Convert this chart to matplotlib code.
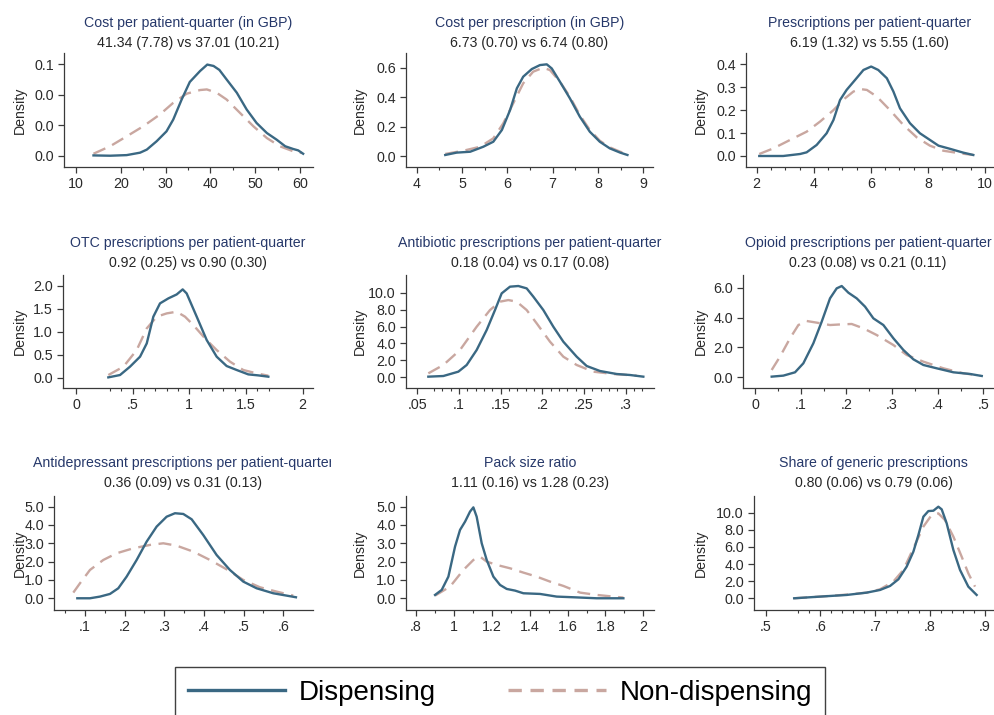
import matplotlib
matplotlib.use("Agg")
import matplotlib.pyplot as plt
from matplotlib.lines import Line2D
from matplotlib.ticker import FixedLocator, FixedFormatter
from matplotlib.transforms import Bbox, TransformedBbox

plt.rcParams['font.family'] = ['Liberation Sans', 'DejaVu Sans']

# kernel density estimates, dispensing (disp) vs non-dispensing (nond) practices
cost_pq_disp_x = [13.9, 17.6, 21.3, 24.3, 25.8, 28.0, 30.2, 31.7, 33.6, 35.4, 37.7, 39.3, 40.7, 42.0,
                  43.6, 45.9, 48.1, 50.3, 52.6, 54.8, 56.7, 58.5, 59.6, 60.7]
cost_pq_disp_y = [0.0002, 0.0, 0.0004, 0.002, 0.004, 0.0095, 0.016, 0.0237, 0.037, 0.0484, 0.0556, 0.0598,
                  0.0589, 0.0563, 0.0501, 0.0413, 0.0303, 0.0215, 0.0149, 0.0105, 0.0062, 0.0044, 0.0035, 0.0013]
cost_pq_nond_x = [13.9, 17.6, 21.3, 25.0, 28.7, 31.7, 34.7, 37.7, 39.2, 41.4, 43.6, 46.6, 49.6, 52.6,
                  55.5, 58.5, 60.4]
cost_pq_nond_y = [0.0013, 0.0062, 0.0127, 0.0193, 0.027, 0.0347, 0.0407, 0.0431, 0.0435, 0.0413, 0.0369,
                  0.0281, 0.0193, 0.0116, 0.0062, 0.0029, 0.0018]

cost_rx_disp_x = [4.63, 4.88, 5.18, 5.47, 5.69, 5.88, 6.06, 6.21, 6.35, 6.54, 6.72, 6.87, 6.98, 7.16,
                  7.38, 7.60, 7.82, 8.04, 8.26, 8.49, 8.65]
cost_rx_disp_y = [0.007, 0.023, 0.029, 0.063, 0.097, 0.177, 0.312, 0.46, 0.539, 0.591, 0.618, 0.623,
                  0.595, 0.505, 0.392, 0.267, 0.165, 0.097, 0.052, 0.023, 0.007]
cost_rx_nond_x = [4.63, 5.03, 5.40, 5.69, 5.91, 6.13, 6.35, 6.57, 6.79, 6.94, 7.16, 7.38, 7.60, 7.82,
                  8.04, 8.26, 8.49, 8.65]
cost_rx_nond_y = [0.014, 0.036, 0.063, 0.12, 0.222, 0.358, 0.494, 0.573, 0.60, 0.584, 0.505, 0.403,
                  0.278, 0.177, 0.104, 0.059, 0.029, 0.014]

rx_pq_disp_x = [2.09, 2.93, 3.52, 3.75, 4.10, 4.45, 4.69, 4.92, 5.15, 5.45, 5.74, 6.01, 6.26, 6.56,
                6.79, 7.02, 7.37, 7.72, 8.07, 8.37, 8.78, 9.24, 9.59]
rx_pq_disp_y = [0.0, 0.0, 0.0087, 0.016, 0.048, 0.099, 0.157, 0.244, 0.288, 0.332, 0.375, 0.39, 0.375,
                0.339, 0.281, 0.208, 0.143, 0.099, 0.07, 0.045, 0.031, 0.0145, 0.0044]
rx_pq_nond_x = [2.09, 2.58, 3.17, 3.75, 4.22, 4.69, 5.10, 5.39, 5.62, 5.86, 6.21, 6.67, 7.14, 7.61,
                8.07, 8.54, 9.13, 9.59]
rx_pq_nond_y = [0.0087, 0.033, 0.07, 0.106, 0.15, 0.20, 0.252, 0.281, 0.292, 0.288, 0.259, 0.20, 0.135,
                0.081, 0.045, 0.023, 0.0116, 0.0044]

otc_disp_x = [0.285, 0.388, 0.476, 0.565, 0.624, 0.682, 0.741, 0.815, 0.888, 0.941, 0.976, 1.065, 1.153,
              1.241, 1.329, 1.418, 1.52, 1.609, 1.697]
otc_disp_y = [0.007, 0.058, 0.239, 0.457, 0.746, 1.326, 1.616, 1.725, 1.81, 1.92, 1.833, 1.326, 0.819,
              0.457, 0.254, 0.167, 0.072, 0.05, 0.022]
otc_nond_x = [0.285, 0.418, 0.535, 0.624, 0.712, 0.80, 0.888, 0.962, 1.035, 1.138, 1.241, 1.359, 1.476,
              1.594, 1.697]
otc_nond_y = [0.058, 0.239, 0.60, 1.072, 1.326, 1.398, 1.435, 1.326, 1.145, 0.855, 0.601, 0.348, 0.167,
              0.094, 0.043]

abx_disp_x = [0.0632, 0.0812, 0.0992, 0.1092, 0.1212, 0.1332, 0.1432, 0.1512, 0.1612, 0.1712, 0.1812,
              0.1892, 0.2012, 0.2132, 0.2252, 0.2412, 0.2532, 0.2692, 0.2892, 0.3052, 0.3212]
abx_disp_y = [0.079, 0.157, 0.669, 1.457, 3.23, 5.59, 7.95, 9.92, 10.71, 10.79, 10.51, 9.53, 7.95, 5.98,
              4.21, 2.44, 1.34, 0.748, 0.394, 0.276, 0.079]
abx_nond_x = [0.0632, 0.0812, 0.1012, 0.1212, 0.1372, 0.1492, 0.1592, 0.1692, 0.1812, 0.1932, 0.2092,
              0.2252, 0.2412, 0.2612, 0.2852, 0.3132]
abx_nond_y = [0.472, 1.457, 3.23, 5.98, 7.95, 8.94, 9.13, 8.94, 7.95, 6.38, 4.21, 2.44, 1.457, 0.669,
              0.394, 0.197]

opi_disp_x = [0.0365, 0.062, 0.0876, 0.1058, 0.1277, 0.146, 0.1642, 0.1788, 0.1898, 0.2044, 0.2226,
              0.2409, 0.2591, 0.281, 0.303, 0.3248, 0.3467, 0.3686, 0.3978, 0.4343, 0.4708, 0.4964]
opi_disp_y = [0.045, 0.112, 0.335, 0.937, 2.275, 3.725, 5.286, 5.955, 6.112, 5.665, 5.286, 4.73, 3.948,
              3.50, 2.61, 1.83, 1.204, 0.825, 0.602, 0.335, 0.223, 0.089]
opi_nond_x = [0.0365, 0.0547, 0.0766, 0.0949, 0.1131, 0.135, 0.1642, 0.1898, 0.2117, 0.2372, 0.2664,
              0.303, 0.3321, 0.3686, 0.4124, 0.4562, 0.4927]
opi_nond_y = [0.491, 1.383, 2.61, 3.50, 3.77, 3.66, 3.50, 3.546, 3.57, 3.28, 2.83, 2.16, 1.494, 1.048,
              0.602, 0.268, 0.112]

adep_disp_x = [0.0807, 0.1126, 0.1378, 0.163, 0.184, 0.205, 0.2303, 0.2555, 0.2807, 0.3059, 0.3269,
               0.3479, 0.369, 0.3983, 0.432, 0.4655, 0.4992, 0.5328, 0.5748, 0.6084, 0.632]
adep_disp_y = [0.0, 0.0, 0.091, 0.236, 0.545, 1.18, 2.09, 3.09, 3.91, 4.45, 4.64, 4.60, 4.31, 3.45,
               2.36, 1.545, 0.909, 0.545, 0.273, 0.145, 0.055]
adep_nond_x = [0.0706, 0.0874, 0.1126, 0.1462, 0.1798, 0.2218, 0.2639, 0.2975, 0.3311, 0.3731, 0.4151,
               0.4571, 0.4992, 0.5412, 0.5832, 0.6252]
adep_nond_y = [0.309, 0.818, 1.545, 2.09, 2.455, 2.727, 2.91, 3.0, 2.87, 2.545, 2.09, 1.58, 1.0, 0.60,
               0.364, 0.145]

pack_disp_x = [0.9003, 0.9355, 0.9707, 1.0059, 1.0322, 1.0587, 1.085, 1.1026, 1.120, 1.1466, 1.173,
               1.2082, 1.2434, 1.2786, 1.3226, 1.3666, 1.4545, 1.5425, 1.6305, 1.7537, 1.8944]
pack_disp_y = [0.182, 0.455, 1.18, 2.82, 3.73, 4.18, 4.73, 4.96, 4.45, 3.0, 2.09, 1.18, 0.727, 0.509,
               0.418, 0.273, 0.236, 0.091, 0.055, 0.0, 0.0]
pack_nond_x = [0.9003, 0.9795, 1.0499, 1.1026, 1.1378, 1.173, 1.2258, 1.2962, 1.3666, 1.4370, 1.5073,
               1.5777, 1.6657, 1.7537, 1.8417, 1.8944]
pack_nond_y = [0.145, 0.636, 1.545, 2.09, 2.27, 2.0, 1.82, 1.636, 1.40, 1.18, 0.909, 0.673, 0.309,
               0.182, 0.091, 0.036]

gen_disp_x = [0.5522, 0.5995, 0.6481, 0.6845, 0.7088, 0.727, 0.7422, 0.7573, 0.7695, 0.7786, 0.7877,
              0.7968, 0.8059, 0.815, 0.8211, 0.8302, 0.8424, 0.8545, 0.8696, 0.8848]
gen_disp_y = [0.0, 0.195, 0.389, 0.661, 0.973, 1.44, 2.22, 3.70, 5.45, 7.39, 9.53, 10.19, 10.23, 10.70,
              10.39, 8.75, 5.64, 3.31, 1.36, 0.389]
gen_nond_x = [0.5522, 0.5995, 0.6481, 0.6845, 0.7088, 0.733, 0.7512, 0.7695, 0.7877, 0.8028, 0.815,
              0.8271, 0.8424, 0.8575, 0.8696, 0.8818]
gen_nond_y = [0.0, 0.195, 0.428, 0.661, 1.05, 1.95, 3.31, 5.84, 8.37, 9.73, 9.92, 9.14, 7.20, 4.86,
              2.92, 1.36]

titles = ["Cost per patient-quarter (in GBP)", "Cost per prescription (in GBP)",
          "Prescriptions per patient-quarter", "OTC prescriptions per patient-quarter",
          "Antibiotic prescriptions per patient-quarter", "Opioid prescriptions per patient-quarter",
          "Antidepressant prescriptions per patient-quarter", "Pack size ratio",
          "Share of generic prescriptions"]
subtitles = ["41.34 (7.78) vs 37.01 (10.21)", "6.73 (0.70) vs 6.74 (0.80)", "6.19 (1.32) vs 5.55 (1.60)",
             "0.92 (0.25) vs 0.90 (0.30)", "0.18 (0.04) vs 0.17 (0.08)", "0.23 (0.08) vs 0.21 (0.11)",
             "0.36 (0.09) vs 0.31 (0.13)", "1.11 (0.16) vs 1.28 (0.23)", "0.80 (0.06) vs 0.79 (0.06)"]

xticks = [[10, 20, 30, 40, 50, 60], [4, 5, 6, 7, 8, 9], [2, 4, 6, 8, 10],
          [0, 0.5, 1, 1.5, 2], [0.05, 0.1, 0.15, 0.2, 0.25, 0.3], [0, 0.1, 0.2, 0.3, 0.4, 0.5],
          [0.1, 0.2, 0.3, 0.4, 0.5, 0.6], [0.8, 1, 1.2, 1.4, 1.6, 1.8, 2], [0.5, 0.6, 0.7, 0.8, 0.9]]
xticklabels = [["10", "20", "30", "40", "50", "60"], ["4", "5", "6", "7", "8", "9"],
               ["2", "4", "6", "8", "10"], ["0", ".5", "1", "1.5", "2"],
               [".05", ".1", ".15", ".2", ".25", ".3"], ["0", ".1", ".2", ".3", ".4", ".5"],
               [".1", ".2", ".3", ".4", ".5", ".6"], [".8", "1", "1.2", "1.4", "1.6", "1.8", "2"],
               [".5", ".6", ".7", ".8", ".9"]]
xminor = [[25, 35, 45, 55], [4.5, 5.5, 6.5, 7.5, 8.5],
          [2.5, 3, 3.5, 4.5, 5, 5.5, 6.5, 7, 7.5, 8.5, 9, 9.5],
          [0.3, 0.4, 0.6, 0.7, 0.8, 0.9, 1.1, 1.2, 1.3, 1.4, 1.6, 1.7],
          [0.07, 0.08, 0.09, 0.11, 0.12, 0.13, 0.14, 0.16, 0.17, 0.18, 0.19, 0.21, 0.22, 0.23, 0.24,
           0.26, 0.27, 0.28, 0.29, 0.31, 0.32],
          [0.05, 0.15, 0.25, 0.35, 0.45], [0.05, 0.15, 0.25, 0.35, 0.45, 0.55],
          [0.9, 1.1, 1.3, 1.5, 1.7, 1.9],
          [0.56, 0.58, 0.62, 0.64, 0.66, 0.68, 0.72, 0.74, 0.76, 0.78, 0.82, 0.84, 0.86, 0.88]]
yticks = [[0, 0.02, 0.04, 0.06], [0, 0.2, 0.4, 0.6], [0, 0.1, 0.2, 0.3, 0.4],
          [0, 0.5, 1, 1.5, 2], [0, 2, 4, 6, 8, 10], [0, 2, 4, 6],
          [0, 1, 2, 3, 4, 5], [0, 1, 2, 3, 4, 5], [0, 2, 4, 6, 8, 10]]

disp_series = [(cost_pq_disp_x, cost_pq_disp_y), (cost_rx_disp_x, cost_rx_disp_y),
               (rx_pq_disp_x, rx_pq_disp_y), (otc_disp_x, otc_disp_y), (abx_disp_x, abx_disp_y),
               (opi_disp_x, opi_disp_y), (adep_disp_x, adep_disp_y), (pack_disp_x, pack_disp_y),
               (gen_disp_x, gen_disp_y)]
nond_series = [(cost_pq_nond_x, cost_pq_nond_y), (cost_rx_nond_x, cost_rx_nond_y),
               (rx_pq_nond_x, rx_pq_nond_y), (otc_nond_x, otc_nond_y), (abx_nond_x, abx_nond_y),
               (opi_nond_x, opi_nond_y), (adep_nond_x, adep_nond_y), (pack_nond_x, pack_nond_y),
               (gen_nond_x, gen_nond_y)]

# plot regions in pixels: left, right, top, bottom
W, H = 995, 715
boxes = [(64, 313, 53, 167), (406, 653, 53, 167), (746, 993, 53, 167),
         (63, 313, 275, 388), (406, 654, 275, 388), (743, 993, 275, 388),
         (54, 313, 496, 610), (406, 654, 496, 610), (754, 993, 496, 610)]
xlims = [(7.32, 62.9), (3.764, 9.214), (1.625, 10.28), (-0.115, 2.091), (0.0364, 0.334),
         (-0.0263, 0.521), (0.0219, 0.675), (0.747, 2.056), (0.479, 0.9146)]
ylims = [(-0.0074, 0.0674), (-0.0747, 0.70), (-0.048, 0.449), (-0.224, 2.233), (-1.26, 12.09),
         (-0.716, 6.85), (-0.64, 5.58), (-0.64, 5.58), (-1.37, 11.95)]
title_y = [23, 243, 463]
density_x = [19.5, 360, 701]

DISP = '#3a6883'
NOND = '#c9a7a0'
AXC = '#3a3a3a'
TITLEC = '#26386a'

fig = plt.figure(figsize=(W / 100, H / 100), dpi=100)
fig.patch.set_facecolor('white')

for i in range(9):
    l, r, t, b = boxes[i]
    ax = fig.add_axes([l / W, 1 - b / H, (r - l) / W, (b - t) / H])
    ax.plot(*nond_series[i], color=NOND, lw=1.7, dashes=(5.5, 3.2), solid_capstyle='butt')
    ax.plot(*disp_series[i], color=DISP, lw=1.7, solid_joinstyle='round')
    ax.set_xlim(*xlims[i])
    ax.set_ylim(*ylims[i])
    for s in ['top', 'right']:
        ax.spines[s].set_visible(False)
    for s in ['left', 'bottom']:
        ax.spines[s].set_color(AXC)
        ax.spines[s].set_linewidth(0.9)
    ax.xaxis.set_major_locator(FixedLocator(xticks[i]))
    ax.xaxis.set_major_formatter(FixedFormatter(xticklabels[i]))
    ax.xaxis.set_minor_locator(FixedLocator(xminor[i]))
    ax.yaxis.set_major_locator(FixedLocator(yticks[i]))
    ax.yaxis.set_major_formatter(plt.FuncFormatter(lambda v, p: '%.1f' % v))
    ax.tick_params(which='major', length=4.3, width=0.9, color=AXC, labelsize=10.3,
                   labelcolor='#2a2a2a', pad=3)
    ax.tick_params(which='minor', axis='x', length=2.5, width=0.8, color=AXC)

    cx = (l + r) / 2
    ty = title_y[i // 3]
    tt = fig.text(cx / W, 1 - ty / H, titles[i], ha='center', va='center', fontsize=10.2, color=TITLEC)
    if i == 6:
        tt.set_clip_box(TransformedBbox(Bbox([[0, 0], [331 / W, 1]]), fig.transFigure))
        tt.set_clip_on(True)
    fig.text(cx / W, 1 - (ty + 20) / H, subtitles[i], ha='center', va='center', fontsize=10.2,
             color='#262626')
    fig.text(density_x[i % 3] / W, 1 - ((t + b) / 2) / H, 'Density', rotation=90, ha='center',
             va='center', fontsize=10.2, color='#2a2a2a')

handles = [Line2D([], [], color=DISP, lw=2.4),
           Line2D([], [], color=NOND, lw=2.4, dashes=(4, 2.6))]
leg = fig.legend(handles, ['Dispensing', 'Non-dispensing'], loc='upper center', ncol=2,
                 bbox_to_anchor=(500 / W, 1 - 667 / H), fontsize=20, frameon=True, fancybox=False,
                 handlelength=3.5, handletextpad=0.5, columnspacing=2.6, borderpad=0.45,
                 borderaxespad=0)
leg.get_frame().set_edgecolor('#111111')
leg.get_frame().set_linewidth(1.0)

fig.savefig('out.png', dpi=100, facecolor='white')
